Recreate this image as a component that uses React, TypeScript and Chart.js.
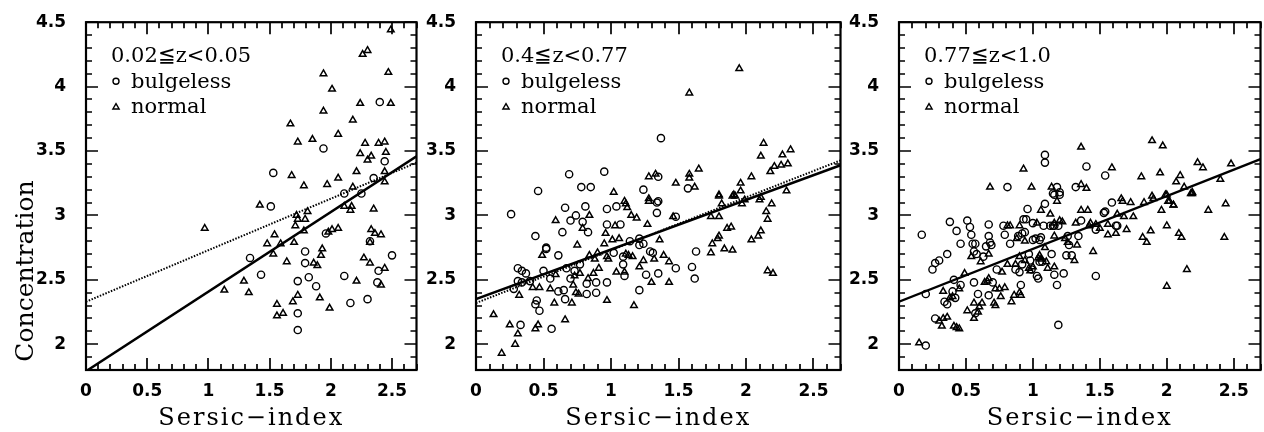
import React, { useEffect, useRef } from "react";
import { Chart, registerables } from "chart.js";

Chart.register(...registerables);

// ---------- data ----------
const X_MIN = 0;
const X_MAX = 2.7;
const Y_MIN = 1.8;
const Y_MAX = 4.5;

const xTickStep = 0.5;
const yTickStep = 0.5;

const panelLabels = ["0.02≦z<0.05", "0.4≦z<0.77", "0.77≦z<1.0"];
const legendNames = ["bulgeless", "normal"];
const xTitle = "Sersic−index";
const yTitle = "Concentration";

// fit lines: [intercept, slope]
const fitSolid = [
  [1.79, 0.618],
  [2.35, 0.385],
  [2.33, 0.41],
];
const fitDotted = [
  [2.33, 0.4],
  [2.32, 0.41],
  null,
];

const p1Bulgeless = [
  [2.40, 3.88], [1.94, 3.52], [1.53, 3.33], [2.44, 3.42], [2.35, 3.29], [2.11, 3.17], [2.25, 3.17],
  [1.51, 3.07], [1.96, 2.86], [2.32, 2.80], [1.79, 2.72], [1.34, 2.67], [2.50, 2.69], [1.79, 2.63],
  [1.43, 2.54], [1.82, 2.52], [1.73, 2.49], [2.11, 2.53], [2.39, 2.57], [1.88, 2.45], [2.38, 2.48],
  [2.30, 2.35], [2.16, 2.32], [1.73, 2.24], [1.73, 2.11],
];
const p1Normal = [
  [2.49, 4.44], [2.26, 4.25], [2.30, 4.28], [1.94, 4.10], [2.47, 4.11], [2.01, 3.98], [2.24, 3.87],
  [2.49, 3.87], [1.94, 3.81], [2.18, 3.74], [1.67, 3.71], [1.73, 3.57], [1.85, 3.59], [2.06, 3.63],
  [2.28, 3.56], [2.39, 3.56], [2.44, 3.57], [2.24, 3.48], [2.33, 3.46], [2.45, 3.49], [2.30, 3.43],
  [2.21, 3.34], [1.68, 3.31], [2.44, 3.34], [2.06, 3.29], [1.78, 3.23], [1.97, 3.24], [2.18, 3.22],
  [2.44, 3.26], [1.42, 3.08], [0.97, 2.90], [1.72, 3.00], [1.73, 2.97], [1.81, 3.03], [1.79, 2.97],
  [1.71, 2.92], [1.78, 2.88], [2.11, 3.07], [2.16, 3.04], [2.17, 3.07], [2.35, 3.05], [1.54, 2.85],
  [1.48, 2.78], [1.59, 2.78], [1.70, 2.79], [1.53, 2.70], [2.01, 2.89], [2.06, 2.90], [1.98, 2.87],
  [2.33, 2.89], [2.36, 2.86], [2.41, 2.85], [2.32, 2.79], [1.93, 2.74], [1.92, 2.69], [1.64, 2.64],
  [1.86, 2.63], [1.89, 2.61], [2.27, 2.67], [2.32, 2.63], [2.44, 2.59], [1.29, 2.49], [2.21, 2.49],
  [1.13, 2.42], [1.33, 2.40], [1.73, 2.38], [1.69, 2.33], [1.91, 2.36], [1.56, 2.31], [1.99, 2.28],
  [1.61, 2.24], [1.56, 2.22], [2.41, 2.46],
];

const p2Bulgeless = [
  [1.37, 3.60], [0.69, 3.32], [0.95, 3.34], [0.46, 3.19], [0.78, 3.22], [0.85, 3.22], [1.24, 3.20],
  [1.35, 3.30], [1.57, 3.21], [1.35, 3.11], [0.26, 3.01], [0.44, 2.84], [0.66, 3.06], [0.70, 2.96],
  [0.74, 3.00], [0.81, 3.07], [0.79, 2.95], [0.64, 2.87], [0.83, 2.87], [0.97, 3.05], [1.04, 3.07],
  [0.97, 2.93], [1.07, 2.93], [1.34, 3.10], [1.34, 3.02], [1.48, 2.99], [0.52, 2.74], [0.61, 2.69],
  [1.02, 2.71], [1.14, 2.80], [1.21, 2.77], [1.21, 2.82], [1.29, 2.72], [1.63, 2.72], [0.31, 2.59],
  [0.34, 2.57], [0.37, 2.55], [0.28, 2.43], [0.31, 2.49], [0.34, 2.48], [0.40, 2.49], [0.50, 2.57],
  [0.55, 2.51], [0.61, 2.41], [0.65, 2.42], [0.70, 2.51], [0.67, 2.59], [0.73, 2.57], [0.77, 2.62],
  [0.82, 2.47], [0.89, 2.48], [0.97, 2.48], [0.82, 2.39], [0.89, 2.40], [0.44, 2.31], [0.45, 2.34],
  [0.47, 2.26], [0.66, 2.35], [0.56, 2.12], [0.33, 2.15], [1.09, 2.62], [1.10, 2.53], [1.26, 2.54],
  [1.35, 2.55], [1.48, 2.59], [1.60, 2.60], [1.62, 2.51], [1.21, 2.42], [0.52, 2.75], [1.31, 2.71],
  [1.09, 2.68], [1.24, 2.78],
];
const p2Normal = [
  [1.95, 4.14], [1.58, 3.95], [2.13, 3.56], [2.33, 3.51], [2.27, 3.47], [2.11, 3.46], [2.21, 3.38],
  [2.26, 3.39], [2.31, 3.40], [2.18, 3.34], [1.65, 3.36], [1.58, 3.32], [1.58, 3.29], [1.28, 3.30],
  [1.33, 3.32], [2.04, 3.30], [1.48, 3.25], [1.62, 3.22], [1.96, 3.25], [1.02, 3.18], [1.80, 3.16],
  [1.91, 3.16], [1.90, 3.15], [1.96, 3.19], [2.30, 3.19], [2.11, 3.14], [1.28, 3.13], [1.10, 3.11],
  [0.13, 2.23], [0.19, 1.93], [0.25, 2.15], [0.31, 2.08], [0.29, 2.00], [0.44, 2.12], [0.46, 2.15],
  [0.66, 2.19], [0.32, 2.38], [0.42, 2.44], [0.47, 2.44], [0.55, 2.43], [0.58, 2.32], [0.71, 2.32],
  [0.59, 2.96], [0.49, 2.69], [0.59, 2.54], [0.74, 2.40], [0.76, 2.39], [0.72, 2.46], [0.75, 2.77],
  [0.77, 2.55], [0.73, 2.53], [0.84, 3.00], [0.79, 2.90], [0.84, 2.69], [0.88, 2.66], [0.87, 2.55],
  [0.83, 2.51], [0.90, 2.71], [0.91, 2.59], [0.95, 2.78], [0.96, 2.86], [0.97, 2.68], [0.98, 2.66],
  [0.97, 2.34], [1.01, 2.81], [1.03, 2.92], [1.06, 2.82], [1.04, 2.56], [1.10, 2.56], [1.11, 2.70],
  [1.11, 3.09], [1.12, 3.06], [1.15, 3.00], [1.19, 2.98], [1.17, 2.30], [1.21, 2.60], [1.24, 2.65],
  [1.27, 2.93], [1.28, 3.11], [1.30, 2.48], [1.32, 2.66], [1.36, 2.81], [1.39, 2.69], [1.43, 2.64],
  [1.43, 2.48], [1.46, 2.99], [1.74, 2.99], [1.80, 2.99], [1.74, 2.71], [1.75, 2.78], [1.79, 2.82],
  [1.80, 2.84], [1.84, 2.74], [1.90, 2.73], [1.86, 2.90], [1.89, 2.91], [1.82, 3.09], [1.80, 3.15],
  [1.92, 3.15], [1.97, 3.09], [1.99, 3.12], [2.04, 2.81], [2.09, 2.84], [2.11, 2.88], [2.10, 3.12],
  [2.15, 3.03], [2.16, 2.97], [2.19, 3.09], [2.16, 2.57], [2.20, 2.55], [1.13, 2.69], [1.16, 2.68],
];

const p3Bulgeless = [
  [1.09, 3.47], [1.09, 3.41], [0.81, 3.22], [1.18, 3.22], [1.15, 3.17], [1.20, 3.18], [1.32, 3.22],
  [1.40, 3.38], [1.54, 3.31], [0.17, 2.85], [0.20, 1.99], [0.20, 2.39], [0.27, 2.20], [0.25, 2.58],
  [0.27, 2.63], [0.30, 2.65], [0.36, 2.70], [0.38, 2.95], [0.43, 2.88], [0.46, 2.78], [0.34, 2.33],
  [0.36, 2.31], [0.40, 2.41], [0.42, 2.36], [0.41, 2.50], [0.46, 2.46], [0.51, 2.96], [0.53, 2.91],
  [0.54, 2.85], [0.55, 2.78], [0.57, 2.78], [0.56, 2.72], [0.58, 2.70], [0.56, 2.48], [0.59, 2.39],
  [0.57, 2.24], [0.63, 2.68], [0.65, 2.76], [0.67, 2.93], [0.67, 2.84], [0.68, 2.79], [0.69, 2.77],
  [0.67, 2.38], [0.70, 2.48], [0.73, 2.58], [0.78, 2.92], [0.79, 2.85], [0.83, 2.78], [0.87, 2.58],
  [0.89, 2.84], [0.90, 2.56], [0.92, 2.62], [0.91, 2.46], [0.93, 2.97], [0.95, 2.97], [0.96, 3.05],
  [0.92, 2.86], [0.94, 2.87], [0.97, 2.70], [0.99, 2.58], [0.98, 2.65], [1.00, 2.94], [1.00, 2.81],
  [1.02, 2.82], [1.03, 2.53], [1.04, 2.51], [1.05, 2.81], [1.06, 2.83], [1.05, 2.64], [1.07, 2.64],
  [1.08, 2.92], [1.09, 3.09], [1.13, 2.92], [1.15, 2.92], [1.14, 2.70], [1.16, 3.16], [1.20, 3.16],
  [1.16, 2.92], [1.19, 2.92], [1.16, 2.54], [1.18, 2.46], [1.19, 2.15], [1.23, 2.55], [1.26, 2.84],
  [1.25, 2.69], [1.29, 2.69], [1.27, 2.77], [1.34, 2.84], [1.36, 2.96], [1.47, 2.53], [1.47, 2.89],
  [1.53, 3.02], [1.54, 3.03], [1.59, 3.10], [1.62, 2.92], [1.63, 2.92],
];
const p3Normal = [
  [0.68, 3.22], [0.93, 3.36], [0.99, 3.22], [1.14, 3.22], [1.36, 3.53], [1.36, 3.24], [1.40, 3.21],
  [1.59, 3.37], [1.81, 3.30], [1.89, 3.58], [1.97, 3.54], [1.95, 3.33], [2.10, 3.31], [2.07, 3.26],
  [2.13, 3.22], [2.18, 3.17], [2.23, 3.41], [2.27, 3.37], [2.48, 3.40], [2.40, 3.28], [2.19, 3.18],
  [1.89, 3.15], [1.99, 3.16], [2.01, 3.11], [2.05, 3.08], [1.66, 3.13], [2.44, 3.09], [2.31, 3.04],
  [2.43, 2.83], [0.15, 2.01], [0.32, 2.14], [0.30, 2.18], [0.33, 2.20], [0.36, 2.21], [0.33, 2.41],
  [0.38, 2.36], [0.40, 2.37], [0.41, 2.14], [0.43, 2.13], [0.45, 2.12], [0.45, 2.43], [0.49, 2.55],
  [0.51, 2.26], [0.54, 2.68], [0.56, 2.32], [0.56, 2.20], [0.59, 2.25], [0.60, 2.29], [0.61, 2.64],
  [0.62, 2.32], [0.64, 2.48], [0.66, 2.49], [0.67, 2.51], [0.67, 2.70], [0.71, 2.32], [0.72, 2.30],
  [0.72, 2.43], [0.75, 2.43], [0.76, 2.37], [0.77, 2.56], [0.79, 2.44], [0.81, 2.92], [0.83, 2.92],
  [0.81, 2.62], [0.84, 2.33], [0.86, 2.38], [0.87, 2.62], [0.88, 2.82], [0.90, 2.40], [0.91, 2.38],
  [0.90, 2.92], [0.90, 2.68], [0.94, 2.80], [0.94, 2.65], [0.97, 2.59], [0.98, 2.57], [1.00, 2.60],
  [1.04, 2.67], [1.05, 2.69], [1.06, 2.66], [1.03, 2.94], [1.06, 3.04], [1.09, 2.75], [1.10, 2.64],
  [1.11, 2.59], [1.13, 3.01], [1.16, 2.84], [1.16, 2.94], [1.20, 2.96], [1.18, 3.11], [1.16, 2.60],
  [1.22, 2.95], [1.24, 2.82], [1.26, 2.79], [1.31, 2.65], [1.32, 2.94], [1.33, 2.77], [1.36, 3.04],
  [1.41, 3.04], [1.42, 2.92], [1.45, 2.72], [1.43, 2.94], [1.47, 2.93], [1.50, 2.90], [1.56, 2.93],
  [1.56, 2.85], [1.62, 2.86], [1.63, 3.01], [1.67, 3.11], [1.68, 2.99], [1.70, 2.89], [1.73, 3.10],
  [1.75, 2.99], [1.83, 3.10], [1.82, 2.83], [1.85, 2.79], [1.88, 2.88], [1.90, 3.13], [1.96, 3.04],
  [2.00, 2.92], [2.00, 2.45], [2.00, 3.16], [2.02, 3.11], [2.05, 3.08], [2.09, 2.86], [2.11, 2.83],
  [2.15, 2.58], [2.19, 3.17],
];

const bulgelessSets = [p1Bulgeless, p2Bulgeless, p3Bulgeless];
const normalSets = [p1Normal, p2Normal, p3Normal];

// ---------- layout (positions / sizes) ----------
const PANELS = [
  { left: 0, width: 422, yWidth: 86, padRight: 3, showYTitle: true },
  { left: 422, width: 424, yWidth: 54, padRight: 4, showYTitle: false },
  { left: 846, width: 420, yWidth: 53, padRight: 1, showYTitle: false },
];
const CANVAS_H = 432;
const PAD_TOP = 17;
const X_AXIS_H = 62;

const tickFont = { family: "'DejaVu Sans', sans-serif", weight: "bold" as const, size: 17 };

function fmt(v: number) {
  return String(Math.round(v * 100) / 100);
}

function drawTriangle(ctx: CanvasRenderingContext2D, x: number, y: number, r: number) {
  ctx.beginPath();
  ctx.moveTo(x, y - r);
  ctx.lineTo(x + r * 0.866, y + r * 0.5);
  ctx.lineTo(x - r * 0.866, y + r * 0.5);
  ctx.closePath();
  ctx.stroke();
}

function makeFramePlugin(idx: number) {
  return {
    id: "frame" + idx,
    afterDraw(chart: any) {
      const ctx: CanvasRenderingContext2D = chart.ctx;
      const { left, right, top, bottom } = chart.chartArea;
      const xs = chart.scales.x;
      const ys = chart.scales.y;
      ctx.save();
      ctx.strokeStyle = "#000";
      ctx.fillStyle = "#000";
      // frame
      ctx.lineWidth = 2.2;
      ctx.strokeRect(left, top, right - left, bottom - top);
      // ticks
      ctx.lineWidth = 1.7;
      ctx.beginPath();
      for (let i = Math.round(X_MIN * 10); i <= Math.round(X_MAX * 10); i++) {
        const px = Math.round(xs.getPixelForValue(i / 10));
        const len = i % 5 === 0 ? 12 : 6;
        ctx.moveTo(px, bottom);
        ctx.lineTo(px, bottom - len);
        ctx.moveTo(px, top);
        ctx.lineTo(px, top + len);
      }
      for (let i = Math.round(Y_MIN * 10); i <= Math.round(Y_MAX * 10); i++) {
        const py = Math.round(ys.getPixelForValue(i / 10));
        const len = i % 5 === 0 ? 12 : 6;
        ctx.moveTo(left, py);
        ctx.lineTo(left + len, py);
        ctx.moveTo(right, py);
        ctx.lineTo(right - len, py);
      }
      ctx.stroke();

      // legend box inside plot
      ctx.font = "21px 'DejaVu Serif', serif";
      ctx.textAlign = "left";
      ctx.textBaseline = "alphabetic";
      ctx.fillText(panelLabels[idx], left + 25, top + 40);
      ctx.lineWidth = 1.4;
      ctx.beginPath();
      ctx.arc(left + 30, top + 59, 3, 0, Math.PI * 2);
      ctx.stroke();
      ctx.fillText(legendNames[0], left + 45, top + 66);
      drawTriangle(ctx, left + 30, top + 85, 3.6);
      ctx.fillText(legendNames[1], left + 45, top + 91);

      // x title
      ctx.font = "24px 'DejaVu Serif', serif";
      (ctx as any).letterSpacing = "2px";
      ctx.textAlign = "center";
      ctx.fillText(xTitle, (left + right) / 2, 425);
      (ctx as any).letterSpacing = "0px";

      if (PANELS[idx].showYTitle) {
        ctx.save();
        ctx.translate(33, 271);
        ctx.rotate(-Math.PI / 2);
        ctx.font = "25px 'DejaVu Serif', serif";
        ctx.textAlign = "center";
        ctx.fillText(yTitle, 0, 0);
        ctx.restore();
      }
      ctx.restore();
    },
  };
}

function lineData(fit: number[] | null) {
  if (!fit) return [];
  return [X_MIN, X_MAX].map((x) => ({ x, y: fit[0] + fit[1] * x }));
}

function Panel({ idx }: { idx: number }) {
  const ref = useRef<HTMLCanvasElement | null>(null);
  const p = PANELS[idx];
  useEffect(() => {
    if (!ref.current) return;
    const datasets: any[] = [
      {
        label: legendNames[0],
        data: bulgelessSets[idx].map(([x, y]) => ({ x, y })),
        pointStyle: "circle",
        pointRadius: 3.6,
        borderColor: "#000",
        backgroundColor: "rgba(0,0,0,0)",
        borderWidth: 1.4,
      },
      {
        label: legendNames[1],
        data: normalSets[idx].map(([x, y]) => ({ x, y })),
        pointStyle: "triangle",
        pointRadius: 3.8,
        borderColor: "#000",
        backgroundColor: "rgba(0,0,0,0)",
        borderWidth: 1.5,
      },
      {
        label: "fit",
        data: lineData(fitSolid[idx]),
        showLine: true,
        pointRadius: 0,
        borderColor: "#000",
        borderWidth: 2.4,
      },
    ];
    if (fitDotted[idx]) {
      datasets.push({
        label: "fit2",
        data: lineData(fitDotted[idx]),
        showLine: true,
        pointRadius: 0,
        borderColor: "#000",
        borderWidth: 2,
        borderDash: [1.5, 1.5],
      });
    }
    const chart = new Chart(ref.current, {
      type: "scatter",
      data: { datasets },
      options: {
        animation: false,
        responsive: false,
        devicePixelRatio: 1,
        events: [],
        layout: { padding: { left: 0, right: p.padRight, top: PAD_TOP, bottom: 0 } },
        plugins: { legend: { display: false }, tooltip: { enabled: false } },
        scales: {
          x: {
            type: "linear",
            min: X_MIN,
            max: X_MAX,
            grid: { display: false },
            border: { display: false },
            ticks: {
              stepSize: xTickStep,
              includeBounds: false,
              padding: 3,
              color: "#000",
              font: tickFont,
              maxRotation: 0,
              autoSkip: false,
              callback: (v: any) => fmt(Number(v)),
            },
            afterFit: (s: any) => {
              s.height = X_AXIS_H;
            },
          },
          y: {
            type: "linear",
            min: Y_MIN,
            max: Y_MAX,
            grid: { display: false },
            border: { display: false },
            ticks: {
              stepSize: yTickStep,
              includeBounds: false,
              padding: 12,
              color: "#000",
              font: tickFont,
              autoSkip: false,
              callback: (v: any) => fmt(Number(v)),
            },
            afterFit: (s: any) => {
              s.width = p.yWidth;
            },
          },
        },
      } as any,
      plugins: [makeFramePlugin(idx)],
    });
    return () => chart.destroy();
  }, [idx]);
  return (
    <canvas
      ref={ref}
      width={p.width}
      height={CANVAS_H}
      style={{ position: "absolute", left: p.left, top: 0, width: p.width, height: CANVAS_H }}
    />
  );
}

export default function App() {
  return (
    <div
      style={{
        position: "fixed",
        left: 0,
        top: 0,
        width: 1264,
        height: 432,
        overflow: "hidden",
        background: "#fff",
      }}
    >
      {PANELS.map((_, i) => (
        <Panel key={i} idx={i} />
      ))}
    </div>
  );
}
